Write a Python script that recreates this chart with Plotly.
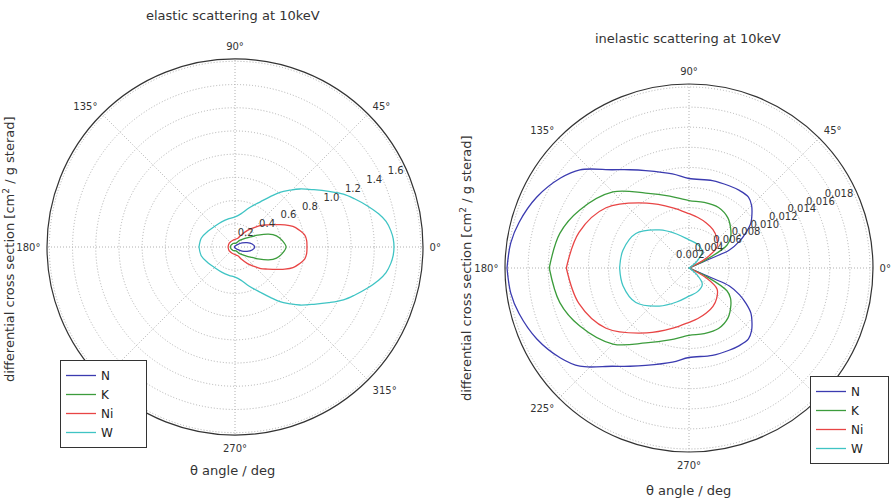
import plotly.graph_objects as go

# ---------------- data (upper half, curves are symmetric about 0 deg) -------------
el_names = ["N", "K", "Ni", "W"]
el_theta_N = [0, 10, 20, 30, 45, 60, 90, 135, 180]
el_r_N = [0.17, 0.15, 0.11, 0.07, 0.03, 0.015, 0.008, 0.006, 0.005]
el_theta_K = [0, 8, 15, 21, 27.5, 33, 39, 55, 76, 120, 170, 180]
el_r_K = [0.44, 0.41, 0.37, 0.31, 0.22, 0.16, 0.12, 0.07, 0.035, 0.035, 0.04, 0.04]
el_theta_Ni = [0, 5, 9.6, 15, 19.6, 24, 28, 34, 40, 46, 53, 62, 72, 110, 146, 180]
el_r_Ni = [0.62, 0.62, 0.61, 0.57, 0.53, 0.47, 0.41, 0.34, 0.29, 0.23, 0.18, 0.12, 0.08,
           0.06, 0.06, 0.06]
el_theta_W = [0, 3, 6, 9.6, 13, 17.5, 22, 26, 30.7, 36, 41.8, 46, 50.6, 55, 60.5, 70, 80,
              90, 102, 118, 135, 150, 165, 180]
el_r_W = [1.37, 1.365, 1.35, 1.32, 1.27, 1.19, 1.11, 1.04, 0.94, 0.84, 0.75, 0.68, 0.61,
          0.53, 0.45, 0.36, 0.29, 0.26, 0.25, 0.245, 0.25, 0.27, 0.30, 0.31]

in_theta_N = [0, 22, 23.5, 24, 28, 32, 36, 41, 45, 50, 57, 64, 75, 90, 100, 114, 121, 128,
              138, 145, 155, 165, 172, 180]
in_r_N = [0, 0, 0.0025, 0.0044, 0.0057, 0.0067, 0.0076, 0.0083, 0.0088, 0.0092, 0.0092,
          0.0091, 0.0090, 0.0089, 0.0095, 0.0106, 0.0114, 0.0124, 0.0146, 0.0156, 0.0167,
          0.0175, 0.0179, 0.0181]
in_theta_K = [0, 24, 26, 31, 36, 42, 52, 64, 77, 90, 105, 120, 135, 152, 165, 180]
in_r_K = [0, 0, 0.002, 0.0044, 0.0051, 0.0056, 0.0063, 0.0067, 0.0067, 0.0067, 0.0074,
          0.0086, 0.0107, 0.0123, 0.0133, 0.0139]
in_theta_Ni = [0, 26, 30, 37, 48, 58, 69, 80, 90, 105, 123, 144, 162, 180]
in_r_Ni = [0, 0, 0.002, 0.0035, 0.0041, 0.0045, 0.0048, 0.0051, 0.0054, 0.0062, 0.0077,
           0.0102, 0.0115, 0.0122]
in_theta_W = [0, 32, 40, 51, 70, 90, 110, 128, 147, 165, 180]
in_r_W = [0, 0, 0.001, 0.0021, 0.0025, 0.0028, 0.0036, 0.0048, 0.0063, 0.0068, 0.0069]

el_ticks = [0.2, 0.4, 0.6, 0.8, 1.0, 1.2, 1.4, 1.6]
in_ticks = [0.002, 0.004, 0.006, 0.008, 0.010, 0.012, 0.014, 0.016, 0.018]

colors = ["#3b3bb0", "#3c9c3c", "#e84545", "#3fc4c4"]
FONT = "DejaVu Sans"
PAD = "\u00a0" * 7


def mirror(theta, r):
    t = list(theta) + [360 - a for a in reversed(theta)]
    rr = list(r) + list(reversed(r))
    return t, rr


fig = go.Figure()
el_sets = [(el_theta_N, el_r_N), (el_theta_K, el_r_K), (el_theta_Ni, el_r_Ni), (el_theta_W, el_r_W)]
in_sets = [(in_theta_N, in_r_N), (in_theta_K, in_r_K), (in_theta_Ni, in_r_Ni), (in_theta_W, in_r_W)]

for name, (th, r), c in zip(el_names, el_sets, colors):
    t, rr = mirror(th, r)
    fig.add_trace(go.Scatterpolar(theta=t, r=rr, mode="lines", name=name + PAD, subplot="polar",
                                  line=dict(color=c, width=1.3, shape="spline", smoothing=1.0),
                                  legend="legend"))
for name, (th, r), c in zip(el_names, in_sets, colors):
    t, rr = mirror(th, r)
    fig.add_trace(go.Scatterpolar(theta=t, r=rr, mode="lines", name=name + PAD[:5], subplot="polar2",
                                  line=dict(color=c, width=1.3, shape="spline", smoothing=1.0),
                                  legend="legend2"))


def angax():
    return dict(rotation=0, direction="counterclockwise", dtick=45, ticksuffix="°",
                ticks="outside", ticklen=4, tickcolor="rgba(0,0,0,0)",
                showline=True, linecolor="#333", linewidth=1.2,
                gridcolor="#b0b0b0", griddash="1px,2px", gridwidth=1,
                tickfont=dict(family=FONT, size=10, color="#333"))


def radax(rmax, ticks, fmt):
    return dict(range=[0, rmax], angle=22.5, tickangle=22.5, tickvals=ticks,
                ticktext=[fmt.format(v) for v in ticks], showline=False, ticks="",
                gridcolor="#b0b0b0", griddash="1px,2px", gridwidth=1, side="counterclockwise",
                tickfont=dict(family=FONT, size=10, color="#333"))


def ann(text, x, y, size=13, angle=0):
    return dict(text=text, x=x / 891, y=1 - y / 501, xref="paper", yref="paper",
                xanchor="center", yanchor="middle", textangle=angle, showarrow=False,
                font=dict(family=FONT, size=size, color="#333"))


fig.update_layout(
    width=891, height=501, margin=dict(l=0, r=0, t=0, b=0),
    paper_bgcolor="white", plot_bgcolor="white",
    font=dict(family=FONT, color="#333"),
    polar=dict(domain=dict(x=[47 / 891, 423 / 891], y=[1 - 439 / 501, 1 - 55 / 501]),
               bgcolor="white", angularaxis=angax(), radialaxis=radax(1.62, el_ticks, "{:.1f}")),
    polar2=dict(domain=dict(x=[505 / 891, 873 / 891], y=[1 - 455 / 501, 1 - 81 / 501]),
                bgcolor="white", angularaxis=angax(), radialaxis=radax(0.0183, in_ticks, "{:.3f}")),
    legend=dict(x=60 / 891, y=1 - 360 / 501, xanchor="left", yanchor="top",
                bordercolor="#333", borderwidth=1, bgcolor="white",
                font=dict(family=FONT, size=12, color="#222"), itemwidth=30),
    legend2=dict(x=810 / 891, y=1 - 376 / 501, xanchor="left", yanchor="top",
                 bordercolor="#333", borderwidth=1, bgcolor="white",
                 font=dict(family=FONT, size=12, color="#222"), itemwidth=30),
    annotations=[
        ann("elastic scattering at 10keV", 233, 15),
        ann("inelastic scattering at 10keV", 688, 38),
        ann("θ angle / deg", 233, 470),
        ann("θ angle / deg", 688, 490),
        ann("differential cross section [cm<sup>2</sup> / g sterad]", 9, 249, angle=-90),
        ann("differential cross section [cm<sup>2</sup> / g sterad]", 466, 268, angle=-90),
    ],
)

fig.write_html("out.html")
